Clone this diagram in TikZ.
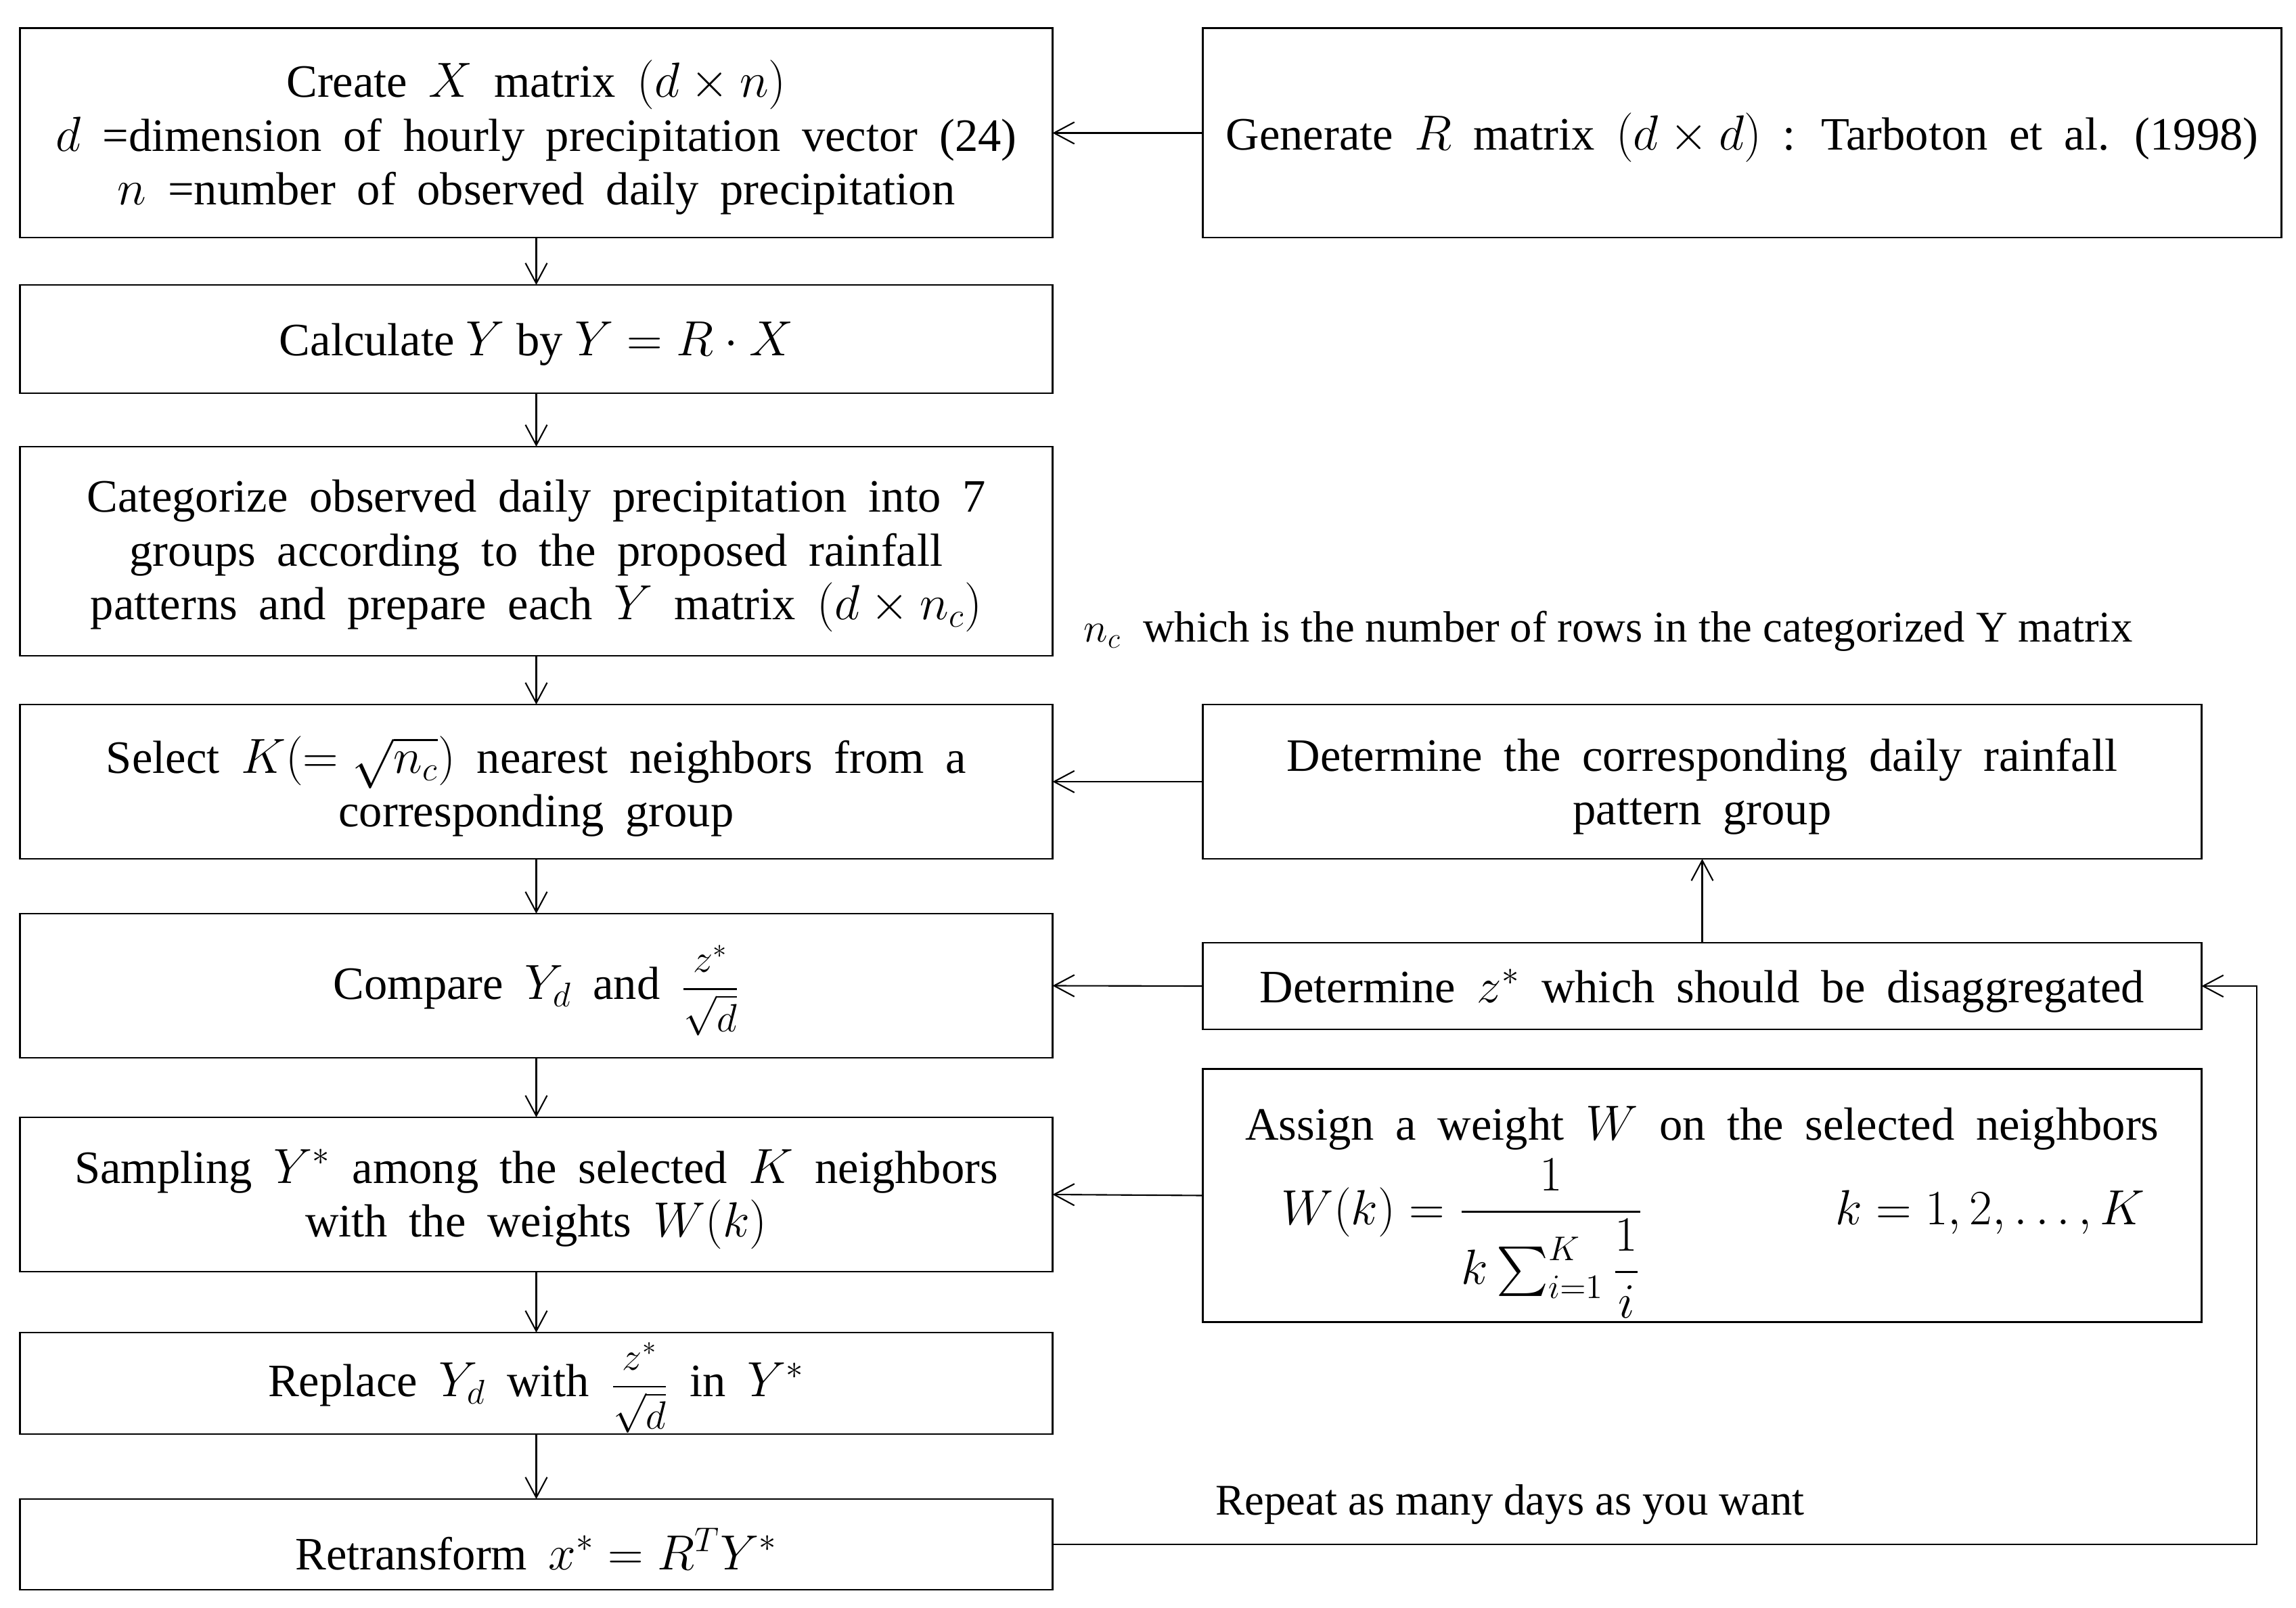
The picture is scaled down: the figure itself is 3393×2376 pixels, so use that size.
\documentclass[tikz,border=0pt]{standalone}
\usepackage{amsmath}
\usepackage{graphicx}
\usepackage{fontspec}
\setmainfont{Liberation Serif}
\usetikzlibrary{arrows.meta,calc}
\newcommand{\wsp}{\spaceskip=9pt plus 2pt minus 1pt\relax}
\newcommand{\zfrac}{\scalebox{0.8}{$\dfrac{z^*}{\sqrt{d}}$}}
\tikzset{
  flowbox/.style={draw, line width=0.8pt, inner sep=0pt, outer sep=0pt},
  boxtxt/.style={inner sep=0pt, align=center, font=\fontsize{19.5pt}{22.6pt}\selectfont\wsp},
  arr/.style={line width=0.6pt, -{Straight Barb[length=0.3cm,width=0.32cm,line width=0.6pt]}},
  lbl/.style={inner sep=0pt, font=\fontsize{18.4pt}{22pt}\selectfont},
}
\begin{document}
\begin{tikzpicture}[x=0.01cm,y=-0.01cm]
\useasboundingbox (0,0) rectangle (3393,2376);
% boxes
\node[flowbox, minimum width=15.25cm, minimum height=3.09cm] (b1) at (792.5,196.5) {};
\node[flowbox, minimum width=15.25cm, minimum height=1.60cm] (b2) at (792.5,501) {};
\node[flowbox, minimum width=15.25cm, minimum height=3.09cm] (b3) at (792.5,814.5) {};
\node[flowbox, minimum width=15.25cm, minimum height=2.28cm] (b4) at (792.5,1155) {};
\node[flowbox, minimum width=15.25cm, minimum height=2.13cm] (b5) at (792.5,1456.5) {};
\node[flowbox, minimum width=15.25cm, minimum height=2.28cm] (b6) at (792.5,1765) {};
\node[flowbox, minimum width=15.25cm, minimum height=1.50cm] (b7) at (792.5,2044) {};
\node[flowbox, minimum width=15.25cm, minimum height=1.34cm] (b8) at (792.5,2282) {};
\node[flowbox, minimum width=15.93cm, minimum height=3.09cm] (rm) at (2574.5,196.5) {};
\node[flowbox, minimum width=14.75cm, minimum height=2.28cm] (grp) at (2515.5,1155) {};
\node[flowbox, minimum width=14.75cm, minimum height=1.28cm] (zst) at (2515.5,1457) {};
\node[flowbox, minimum width=14.75cm, minimum height=3.73cm] (asg) at (2515.5,1766.5) {};
% box texts
\node[boxtxt] (t1) at ([yshift=-0.07cm]b1.center)
  {Create $X$ matrix $(d\times n)$\\ $d$ =dimension of hourly precipitation vector (24)\\ $n$ =number of observed daily precipitation};
\node[boxtxt] (t2) at ([yshift=-0.07cm]b2.center) {\spaceskip=0pt\relax Calculate $Y$ by $Y=R\cdot X$};
\node[boxtxt] (t3) at ([yshift=-0.07cm]b3.center)
  {Categorize observed daily precipitation into 7\\ groups according to the proposed rainfall\\ patterns and prepare each $Y$ matrix $(d\times n_c)$};
\node[boxtxt] (t4) at ([yshift=-0.07cm]b4.center)
  {Select $K(=\sqrt{n_c})$ nearest neighbors from a\\ corresponding group};
\node[boxtxt] (t5) at ([yshift=-0.07cm]b5.center) {Compare $Y_d$ and \zfrac};
\node[boxtxt] (t6) at ([yshift=-0.07cm]b6.center)
  {Sampling $Y^*$ among the selected $K$ neighbors\\ with the weights $W(k)$};
\node[boxtxt] (t7) at ([yshift=-0.07cm]b7.center) {Replace $Y_d$ with \zfrac\ in $Y^*$};
\node[boxtxt] (t8) at ([yshift=-0.07cm]b8.center) {Retransform $x^*=R^TY^*$};
\node[boxtxt] (trm) at ([yshift=-0.07cm]rm.center) {Generate $R$ matrix $(d\times d)$ : Tarboton et al. (1998)};
\node[boxtxt] (tgrp) at ([yshift=-0.07cm]grp.center) {Determine the corresponding daily rainfall\\ pattern group};
\node[boxtxt] (tzst) at ([yshift=-0.07cm]zst.center) {Determine $z^*$ which should be disaggregated};
\node[boxtxt] (asgt) at (2515.5,1667) {Assign a weight $W$ on the selected neighbors};
\node[boxtxt, anchor=base west] (asgf) at (1893,1809)
  {$W(k)=\dfrac{1}{k\sum\nolimits_{i=1}^{K}\dfrac{1}{i}}$};
\node[boxtxt, anchor=base west] (asgk) at (2712,1809) {$k=1,2,\dots,K$};
% labels
\node[lbl, anchor=base west] (nc) at (1601,948)
  {$n_c$ \ which is the number of rows in the categorized Y matrix};
\node[lbl, anchor=base west] (rep) at (1796,2238) {Repeat as many days as you want};
\coordinate (loop) at (3335,2282);
% connectors
\draw[arr] (rm.west) -- (b1.east);
\draw[arr] (b1.south) -- (b2.north);
\draw[arr] (b2.south) -- (b3.north);
\draw[arr] (b3.south) -- (b4.north);
\draw[arr] (b4.south) -- (b5.north);
\draw[arr] (b5.south) -- (b6.north);
\draw[arr] (b6.south) -- (b7.north);
\draw[arr] (b7.south) -- (b8.north);
\draw[arr] (grp.west) -- (b4.east);
\draw[arr] (zst.west) -- (b5.east);
\draw[arr] (zst.north) -- (grp.south);
\draw[arr] (asg.west) -- (b6.east);
\draw[arr] (b8.east) -- (loop) |- (zst.east);
\end{tikzpicture}
\end{document}
